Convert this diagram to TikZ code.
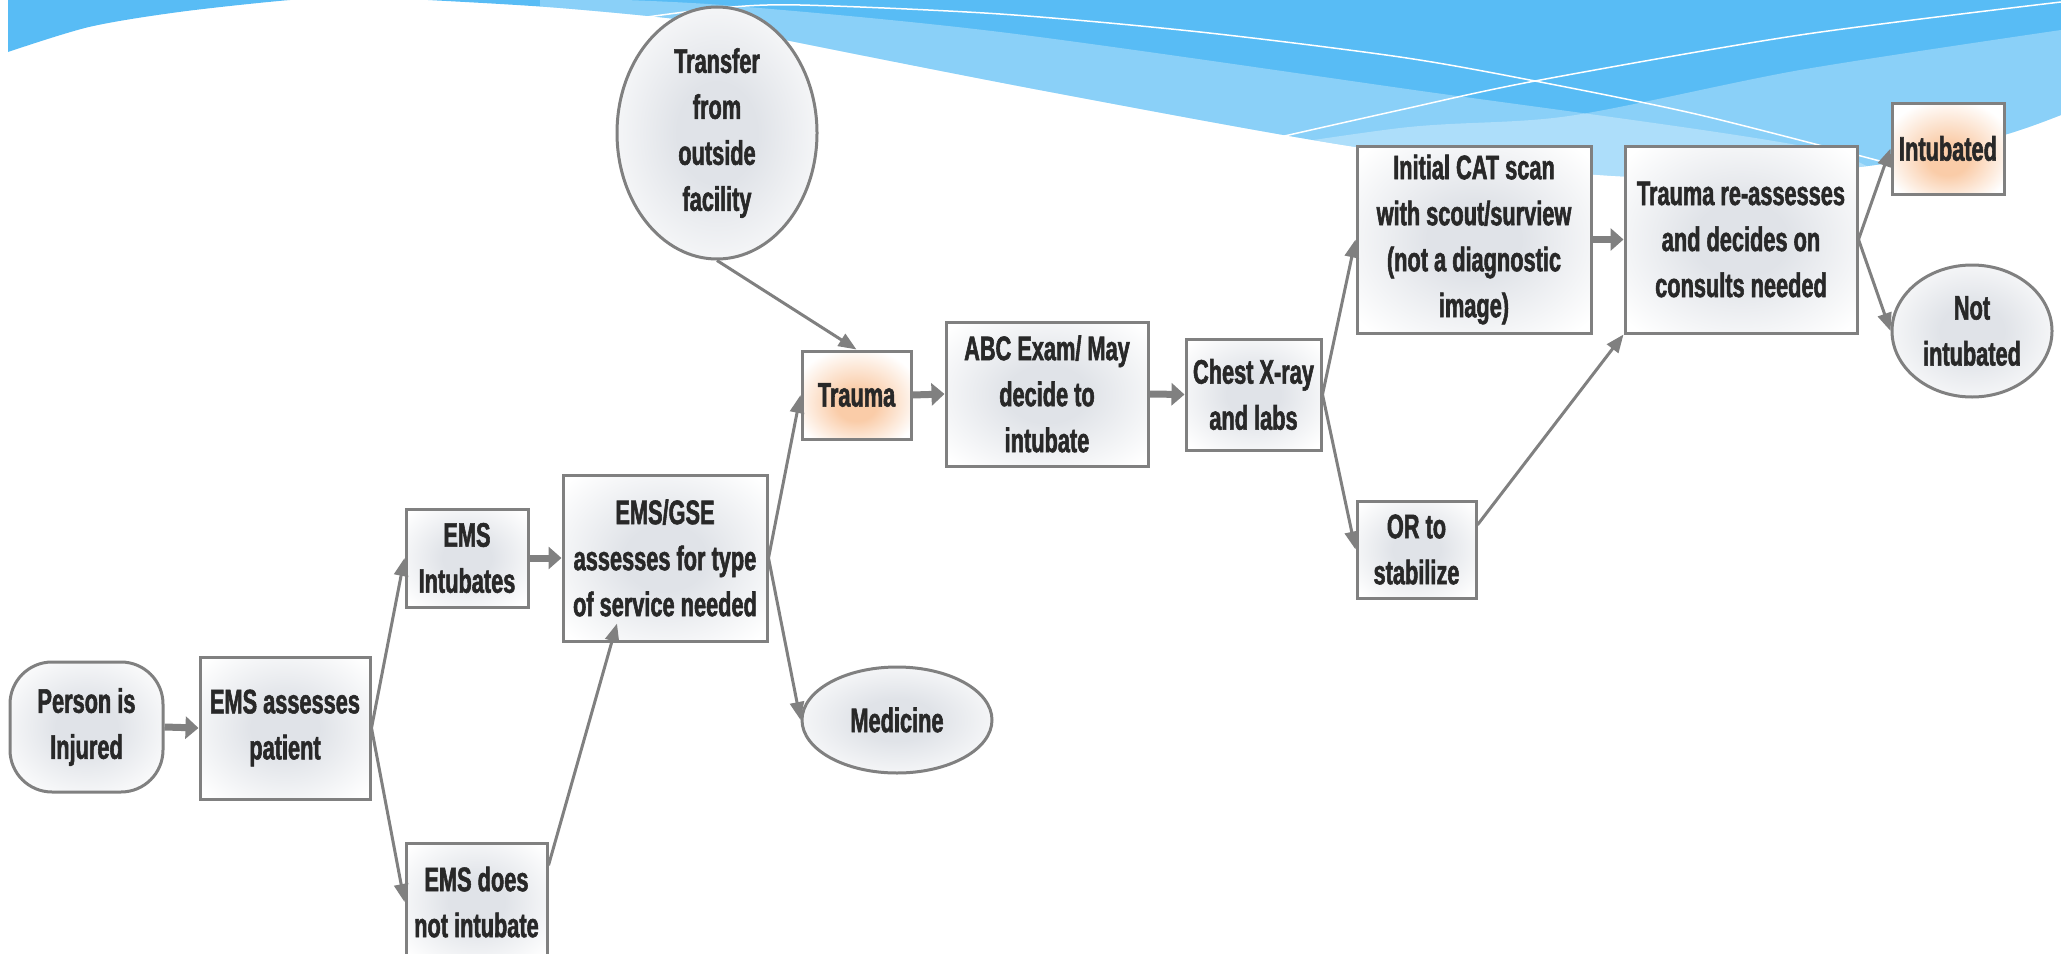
\documentclass[tikz,border=0pt]{standalone}
\usepackage{fontspec}
\setmainfont{Liberation Sans}[FakeStretch=0.64, BoldFont={Liberation Sans Bold}, BoldFeatures={FakeBold=1.6}]
\usetikzlibrary{shapes.geometric,arrows.meta,calc}
\definecolor{skyA}{RGB}{88,188,245}
\definecolor{edgec}{RGB}{128,128,128}
\definecolor{ink}{RGB}{40,40,40}
\definecolor{glowc}{RGB}{224,227,232}
\definecolor{glowo}{RGB}{250,204,168}
\pgfdeclareradialshading{gglow}{\pgfpoint{0bp}{0bp}}{color(0bp)=(glowc);color(10bp)=(glowc);color(33bp)=(white);color(50bp)=(white)}
\pgfdeclareradialshading{oglow}{\pgfpoint{0bp}{-7bp}}{color(0bp)=(glowo);color(9bp)=(glowo);color(30bp)=(white);color(50bp)=(white)}
\tikzset{
  box/.style={draw=edgec, line width=1.5pt, shade, shading=gglow, inner sep=0pt, align=center, text=ink,
              font=\fontsize{17}{23}\selectfont\bfseries},
  obox/.style={box, shading=oglow},
  oval/.style={box, ellipse},
  conn/.style={draw=edgec, line width=1.5pt, -{Triangle[length=9pt,width=7pt]}},
  fat/.style={draw=edgec, line width=3.5pt, -{Triangle[length=6.5pt,width=11pt]}},
  wline/.style={draw=white, line width=0.75pt},
}
\newcommand{\skypath}{(8,-10) -- plot[smooth] coordinates {(8,52) (89,27) (179,12) (290,0) (360,-3) (428,0) (560,8) (700,22) (785,40) (1050,92) (1356,147) (1600,175) (1750,176) (1889,163) (2004,135) (2061,115)} -- (2061,-10) -- cycle}
\begin{document}
\begin{tikzpicture}[x=0.5pt,y=-0.5pt]
\useasboundingbox (0,0) rectangle (2061,953);
% background wave
\begin{scope}
  \clip (0,0) rectangle (2061,953);
  \fill[skyA] \skypath;
  \begin{scope}
    \clip \skypath;
    \fill[white,opacity=0.3] (540,-10) -- plot[smooth] coordinates {(560,-2) (722,5) (1000,32) (1400,88) (1822,150) (1900,200)} -- (1900,400) -- (540,400) -- cycle;
    \fill[white,opacity=0.3] (1150,400) -- plot[smooth] coordinates {(1150,165) (1400,128) (1569,116) (1800,70) (2061,30)} -- (2061,400) -- cycle;
  \end{scope}
  \draw[wline] plot[smooth] coordinates {(640,18) (720,8) (800,5) (1000,14) (1200,32) (1400,57) (1535,81) (1700,115) (1895,165)};
  \draw[wline] plot[smooth] coordinates {(1280,137) (1400,110) (1535,81) (1800,35) (2061,2)};
\end{scope}

% nodes
\node[box, minimum width=76.5pt, minimum height=65pt, rounded corners=21pt] (inj) at (86.5,727) {Person is\\Injured};
\node[box, minimum width=85pt, minimum height=71pt] (ass) at (285,728) {EMS assesses\\patient};
\node[box, minimum width=61pt, minimum height=49pt] (int) at (467,558) {EMS\\Intubates};
\node[box, minimum width=102pt, minimum height=83pt] (gse) at (665,558) {EMS/GSE\\assesses for type\\of service needed};
\node[box, minimum width=70.5pt, minimum height=59pt] (notint) at (476.5,902) {EMS does\\not intubate};
\node[oval, minimum width=95pt, minimum height=53pt] (med) at (897,720) {Medicine};
\node[obox, minimum width=54.5pt, minimum height=44pt] (trauma) at (856.5,395) {Trauma};
\node[box, minimum width=101pt, minimum height=72pt] (abc) at (1047,394) {ABC Exam/ May\\decide to\\intubate};
\node[oval, minimum width=100pt, minimum height=126pt] (transfer) at (717,133) {Transfer\\from\\outside\\facility};
\node[box, minimum width=67.5pt, minimum height=55.5pt] (xray) at (1253.5,394.5) {Chest X-ray\\and labs};
\node[box, minimum width=117pt, minimum height=93.5pt] (cat) at (1474,239.5) {Initial CAT scan\\with scout/surview\\(not a diagnostic\\image)};
\node[box, minimum width=116pt, minimum height=93.5pt] (reas) at (1741,239.5) {Trauma re-assesses\\and decides on\\consults needed};
\node[obox, minimum width=56pt, minimum height=45.5pt] (intub) at (1948,148.5) {Intubated};
\node[oval, minimum width=80pt, minimum height=66pt] (notintub) at (1972,331) {Not\\intubated};
\node[box, minimum width=59.5pt, minimum height=48.5pt] (or) at (1416.5,549.5) {OR to\\stabilize};

\coordinate (gseIn) at ($(gse.south)+(-48,-19)$);

% connectors
\draw[fat] (inj.east) -- (ass.west);
\draw[fat] (int.east) -- (gse.west);
\draw[fat] (trauma.east) -- (abc.west);
\draw[fat] (abc.east) -- (xray.west);
\draw[fat] (cat.east) -- (reas.west);

\draw[conn] (ass.east) -- (int.west);
\draw[conn] (ass.east) -- (notint.west);
\draw[conn] (notint.27) -- (gseIn);
\draw[conn] (gse.east) -- (trauma.west);
\draw[conn] (gse.east) -- (med.west);
\draw[conn] (transfer.south) -- (trauma.north);
\draw[conn] (xray.east) -- (cat.west);
\draw[conn] (xray.east) -- (or.west);
\draw[conn] (or.22) -- (reas.south west);
\draw[conn] (reas.east) -- (intub.west);
\draw[conn] (reas.east) -- (notintub.west);
\end{tikzpicture}
\end{document}
